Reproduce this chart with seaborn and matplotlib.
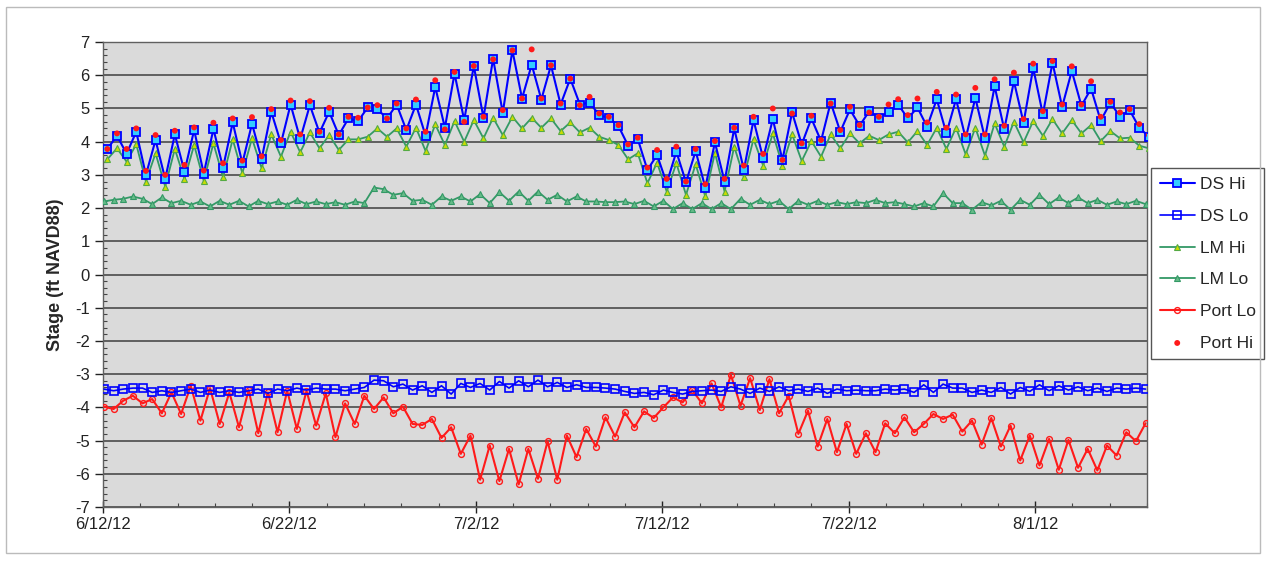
import pandas as pd
import matplotlib
matplotlib.use("Agg")
import matplotlib.pyplot as plt
import matplotlib.dates as mdates
from matplotlib.ticker import FixedLocator, MultipleLocator, FuncFormatter
from matplotlib.patches import Rectangle
import seaborn as sns

# tide readings, one about every 12 h 25 min
hi_start = "2012-06-12 05:30"
lo_start = "2012-06-12 01:10"
tide_step = "745min"

ds_hi = [3.78, 4.18, 3.64, 4.30, 3.00, 4.05, 2.88, 4.22, 3.10, 4.35, 3.04, 4.38, 3.22, 4.58, 3.35, 4.54,
         3.48, 4.90, 3.95, 5.12, 4.08, 5.10, 4.27, 4.90, 4.20, 4.70, 4.62,
         5.03, 4.98, 4.70, 5.12, 4.35, 5.12, 4.18, 5.65, 4.42, 6.05, 4.65, 6.28, 4.72, 6.50, 4.87, 6.75,
         5.30, 6.32, 5.27, 6.30, 5.12, 5.90, 5.12, 5.18, 4.80, 4.72,
         4.47, 3.88, 4.08, 3.15, 3.60, 2.75, 3.70, 2.78, 3.72, 2.62, 3.98, 2.80, 4.40, 3.15, 4.65, 3.50,
         4.68, 3.45, 4.88, 3.92, 4.70, 4.02, 5.18, 4.30, 4.97, 4.48, 4.92,
         4.72, 4.90, 5.12, 4.70, 5.03, 4.45, 5.28, 4.25, 5.28, 4.10, 5.32, 4.10, 5.67, 4.37, 5.82, 4.57,
         6.22, 4.82, 6.38, 5.05, 6.13, 5.08, 5.60, 4.63, 5.18, 4.75, 4.95, 4.42, 4.15]

port_hi = [3.78, 4.25, 3.78, 4.40, 3.12, 4.20, 3.00, 4.33, 3.30, 4.43, 3.13, 4.57, 3.35, 4.70, 3.43, 4.74,
           3.56, 4.98, 4.05, 5.24, 4.22, 5.22, 4.30, 5.02, 4.22, 4.75, 4.72,
           5.03, 5.10, 4.70, 5.15, 4.40, 5.27, 4.30, 5.85, 4.37, 6.10, 4.60, 6.28, 4.75, 6.48, 4.95, 6.75,
           5.30, 6.78, 5.30, 6.30, 5.15, 5.90, 5.10, 5.35, 4.85, 4.75,
           4.50, 3.92, 4.12, 3.22, 3.75, 2.88, 3.85, 2.80, 3.78, 2.72, 4.02, 2.88, 4.42, 3.28, 4.75, 3.63,
           5.00, 3.45, 4.85, 3.95, 4.78, 4.05, 5.15, 4.35, 5.05, 4.50, 4.88,
           4.75, 5.12, 5.28, 4.80, 5.30, 4.58, 5.50, 4.42, 5.42, 4.22, 5.62, 4.22, 5.88, 4.48, 6.08, 4.68,
           6.35, 4.92, 6.43, 5.12, 6.27, 5.12, 5.82, 4.75, 5.20, 4.88, 4.98, 4.53, 4.20]

lm_hi = [3.47, 3.80, 3.40, 3.92, 2.80, 3.65, 2.65, 3.78, 2.87, 3.90, 2.82, 3.95, 2.93, 4.07, 3.05, 4.10,
         3.20, 4.22, 3.55, 4.30, 3.68, 4.28, 3.80, 4.20, 3.75, 4.07, 4.07,
         4.15, 4.40, 4.15, 4.40, 3.85, 4.42, 3.72, 4.52, 3.90, 4.62, 4.00, 4.65, 4.10, 4.72, 4.20, 4.75,
         4.40, 4.72, 4.42, 4.70, 4.32, 4.58, 4.28, 4.42, 4.15, 4.05,
         3.90, 3.47, 3.65, 2.75, 3.37, 2.50, 3.35, 2.40, 3.32, 2.35, 3.67, 2.50, 3.85, 2.93, 4.08, 3.28,
         4.25, 3.28, 4.22, 3.42, 4.02, 3.55, 4.22, 3.80, 4.25, 3.95, 4.18,
         4.05, 4.22, 4.30, 3.98, 4.32, 3.90, 4.42, 3.78, 4.42, 3.62, 4.42, 3.58, 4.55, 3.85, 4.60, 3.98,
         4.62, 4.18, 4.68, 4.25, 4.65, 4.25, 4.50, 4.02, 4.32, 4.10, 4.12, 3.88, 3.80]

lm_lo = [2.20, 2.25, 2.28, 2.35, 2.28, 2.12, 2.32, 2.15, 2.22, 2.10, 2.20, 2.05, 2.22, 2.10, 2.22, 2.05,
         2.22, 2.12, 2.20, 2.10, 2.25, 2.12, 2.20, 2.12, 2.18, 2.10, 2.20, 2.15,
         2.62, 2.57, 2.40, 2.45, 2.22, 2.25, 2.10, 2.35, 2.22, 2.35, 2.20, 2.42, 2.15, 2.48, 2.22, 2.50,
         2.22, 2.50, 2.25, 2.40, 2.20, 2.35, 2.20, 2.20, 2.18, 2.18,
         2.20, 2.12, 2.22, 2.05, 2.22, 1.97, 2.15, 1.97, 2.15, 1.97, 2.15, 1.97, 2.28, 2.10, 2.25, 2.12,
         2.22, 1.97, 2.22, 2.10, 2.22, 2.10, 2.18, 2.12, 2.18, 2.15, 2.25,
         2.15, 2.18, 2.12, 2.05, 2.15, 2.05, 2.45, 2.15, 2.15, 1.95, 2.18, 2.08, 2.22, 1.95, 2.25, 2.10,
         2.40, 2.12, 2.32, 2.15, 2.32, 2.15, 2.25, 2.10, 2.20, 2.12, 2.22, 2.12]

ds_lo = [-3.45, -3.50, -3.45, -3.42, -3.42, -3.55, -3.50, -3.55, -3.50, -3.45, -3.55, -3.48, -3.55, -3.50,
         -3.55, -3.50, -3.45, -3.58, -3.45, -3.50, -3.42, -3.48, -3.42, -3.45, -3.45, -3.50, -3.45, -3.40,
         -3.18, -3.20, -3.38, -3.30, -3.48, -3.35, -3.55, -3.35, -3.60, -3.28, -3.40, -3.28, -3.48, -3.22,
         -3.42, -3.20, -3.38, -3.18, -3.38, -3.25, -3.40, -3.32, -3.40, -3.40, -3.42, -3.45, -3.52,
         -3.58, -3.55, -3.62, -3.48, -3.55, -3.60, -3.52, -3.50, -3.48, -3.52, -3.38, -3.45, -3.58, -3.42,
         -3.52, -3.38, -3.50, -3.45, -3.52, -3.42, -3.58, -3.45, -3.50, -3.48, -3.50, -3.50, -3.45,
         -3.48, -3.45, -3.55, -3.32, -3.55, -3.30, -3.42, -3.42, -3.55, -3.48, -3.55, -3.40, -3.60, -3.40,
         -3.52, -3.32, -3.50, -3.35, -3.48, -3.38, -3.50, -3.42, -3.52, -3.42, -3.45, -3.42, -3.45]

port_lo = [-3.98, -4.05, -3.80, -3.65, -3.88, -3.75, -4.18, -3.55, -4.20, -3.35, -4.40, -3.42, -4.50, -3.55,
           -4.60, -3.48, -4.78, -3.55, -4.75, -3.50, -4.65, -3.50, -4.55, -3.58, -4.90, -3.88, -4.50, -3.65,
           -4.05, -3.70, -4.18, -3.98, -4.50, -4.53, -4.35, -4.92, -4.60, -5.40, -4.85, -6.18, -5.15, -6.22,
           -5.25, -6.32, -5.25, -6.15, -5.02, -6.18, -4.85, -5.50, -4.65, -5.18, -4.30, -4.88, -4.15,
           -4.60, -4.12, -4.32, -4.00, -3.70, -3.85, -3.48, -3.88, -3.28, -4.00, -3.02, -3.95, -3.12, -4.08,
           -3.15, -4.18, -3.65, -4.80, -4.10, -5.18, -4.35, -5.35, -4.50, -5.40, -4.78, -5.35, -4.48,
           -4.78, -4.30, -4.75, -4.50, -4.20, -4.35, -4.22, -4.73, -4.40, -5.12, -4.32, -5.18, -4.55, -5.60,
           -4.85, -5.75, -4.95, -5.88, -4.98, -5.82, -5.25, -5.90, -5.15, -5.45, -4.75, -5.02, -4.48]

tick_dates = ["2012-06-12", "2012-06-22", "2012-07-02", "2012-07-12", "2012-07-22", "2012-08-01"]
x_start, x_end = "2012-06-12", "2012-08-07"

hi_times = pd.date_range(hi_start, periods=len(ds_hi), freq=tide_step)
lo_times = pd.date_range(lo_start, periods=len(ds_lo), freq=tide_step)

sns.set_style("ticks")
plt.rcParams["font.family"] = ["Liberation Sans", "DejaVu Sans"]
plt.rcParams["axes.unicode_minus"] = False

fig = plt.figure(figsize=(12.66, 5.61), dpi=100)
ax = fig.add_axes([0.0814, 0.0963, 0.8246, 0.8287])
ax.set_facecolor("#dadada")

blue = "#0000ff"
green = "#339966"
red = "#ff1a1a"

sns.lineplot(x=lo_times, y=port_lo, ax=ax, color=red, lw=1.5, marker="o", markersize=4.2,
             markerfacecolor="none", markeredgecolor=red, markeredgewidth=1.0, label="Port Lo",
             estimator=None, zorder=3)
sns.lineplot(x=lo_times, y=ds_lo, ax=ax, color=blue, lw=1.2, marker="s", markersize=6.2,
             markerfacecolor="none", markeredgecolor=blue, markeredgewidth=1.2, label="DS Lo",
             estimator=None, zorder=3)
sns.lineplot(x=lo_times, y=lm_lo, ax=ax, color=green, lw=1.3, marker="^", markersize=4.5,
             markerfacecolor="#66bb88", markeredgecolor=green, markeredgewidth=0.8, label="LM Lo",
             estimator=None, zorder=3)
sns.lineplot(x=hi_times, y=lm_hi, ax=ax, color=green, lw=1.3, marker="^", markersize=5,
             markerfacecolor="#ccdd00", markeredgecolor="#55aa44", markeredgewidth=0.8, label="LM Hi",
             estimator=None, zorder=4)
sns.lineplot(x=hi_times, y=ds_hi, ax=ax, color=blue, lw=1.5, marker="s", markersize=5.8,
             markerfacecolor="#33ccff", markeredgecolor=blue, markeredgewidth=1.3, label="DS Hi",
             estimator=None, zorder=5)
sns.scatterplot(x=hi_times, y=port_hi, ax=ax, color=red, s=18, edgecolor="none", label="Port Hi",
                zorder=6)

ax.set_xlim(pd.Timestamp(x_start), pd.Timestamp(x_end))
ax.set_ylim(-7, 7)
ax.yaxis.set_major_locator(MultipleLocator(1))
ax.yaxis.set_minor_locator(MultipleLocator(0.2))
ax.xaxis.set_major_locator(FixedLocator(mdates.date2num(pd.to_datetime(tick_dates))))
ax.xaxis.set_minor_locator(FixedLocator(mdates.date2num(pd.date_range(x_start, x_end, freq="2D"))))
ax.xaxis.set_major_formatter(FuncFormatter(
    lambda v, p: "{d.month}/{d.day}/{y}".format(d=mdates.num2date(v), y=mdates.num2date(v).strftime("%y"))))

ax.grid(False)
ax.yaxis.grid(True, color="#4a4a4a", lw=1.2)
ax.set_axisbelow(True)
for side in ["top", "right", "left", "bottom"]:
    ax.spines[side].set_color("#606060")
    ax.spines[side].set_linewidth(1.0)

ax.tick_params(axis="both", which="major", labelsize=12, colors="#222222", length=6, width=1)
ax.tick_params(axis="y", which="major", direction="out")
ax.tick_params(axis="x", which="major", direction="inout", length=8)
ax.tick_params(axis="both", which="minor", direction="in", length=3, width=0.8, colors="#444444")
ax.set_xlabel("")
ax.set_ylabel("Stage (ft NAVD88)", fontsize=13, fontweight="bold", labelpad=8)

handles, labels = ax.get_legend_handles_labels()
order = ["DS Hi", "DS Lo", "LM Hi", "LM Lo", "Port Lo", "Port Hi"]
hmap = dict(zip(labels, handles))
leg = ax.legend([hmap[k] for k in order], order, loc="center left", bbox_to_anchor=(1.004, 0.523),
                borderaxespad=0, fontsize=12.5, frameon=True, fancybox=False, edgecolor="#555555",
                framealpha=1, handlelength=2.0, labelspacing=0.95, borderpad=0.5, handletextpad=0.3)
leg.get_frame().set_linewidth(1.0)

fig.patches.append(Rectangle((0.005, 0.015), 0.99, 0.972, transform=fig.transFigure,
                             fill=False, edgecolor="#bbbbbb", lw=1.0))

fig.savefig("out.png", dpi=100)
